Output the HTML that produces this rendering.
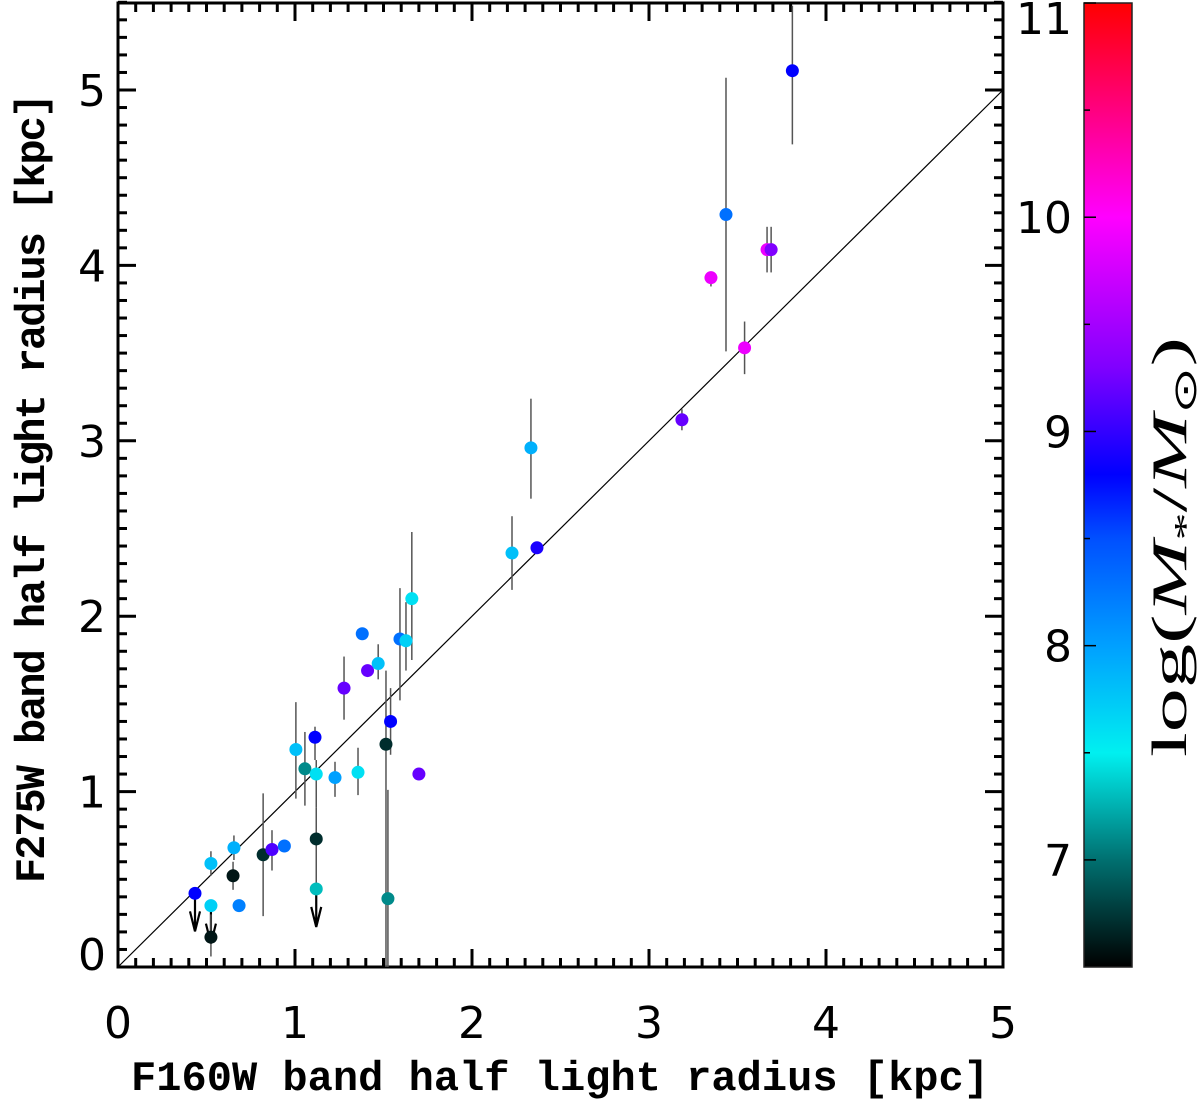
<!DOCTYPE html>
<html><head><meta charset="utf-8"><style>body{margin:0;background:#fff}svg{display:block}</style></head>
<body>
<svg id="chart" width="1200" height="1100" xmlns="http://www.w3.org/2000/svg">
<defs><linearGradient id="cg" x1="0" y1="1" x2="0" y2="0">
<stop offset="0" stop-color="#000000"/><stop offset="0.111" stop-color="#007070"/><stop offset="0.222" stop-color="#00f0f0"/><stop offset="0.333" stop-color="#00a0ff"/><stop offset="0.444" stop-color="#0050ff"/><stop offset="0.511" stop-color="#0000ff"/><stop offset="0.622" stop-color="#8000ff"/><stop offset="0.778" stop-color="#ff00ff"/><stop offset="1" stop-color="#ff0000"/></linearGradient></defs>
<g id="g"></g>
</svg>
<script>
const xs=[0.435,0.525,0.525,0.525,0.65,0.655,0.684,0.82,0.87,0.94,1.005,1.056,1.113,1.12,1.12,1.12,1.226,1.277,1.356,1.38,1.41,1.47,1.514,1.525,1.54,1.593,1.627,1.66,1.70,2.226,2.333,2.367,3.186,3.35,3.435,3.54,3.667,3.69,3.81];
const ys=[0.42,0.35,0.17,0.59,0.52,0.68,0.35,0.64,0.67,0.69,1.24,1.13,1.31,1.10,0.73,0.445,1.08,1.59,1.11,1.90,1.69,1.73,1.27,0.39,1.40,1.87,1.86,2.10,1.10,2.36,2.96,2.39,3.12,3.93,4.29,3.53,4.09,4.09,5.11];
const yhi=[null,null,0.30,0.66,0.60,0.75,null,0.99,0.78,null,1.51,1.34,1.37,1.18,0.91,null,1.17,1.77,1.25,null,null,1.84,1.69,1.01,1.59,2.16,2.08,2.48,null,2.57,3.24,null,3.18,3.96,5.07,3.68,4.22,4.22,5.48];
const ylo=[null,null,0.06,0.52,0.44,0.61,null,0.29,0.55,null,0.96,0.92,1.18,0.91,0.38,null,0.97,1.41,0.98,null,null,1.64,0,0,1.21,1.52,1.69,1.75,null,2.15,2.67,null,3.06,3.88,3.51,3.38,3.96,3.96,4.69];
const mass=[8.8,7.7,6.6,7.8,6.6,7.9,8.2,6.7,9.1,8.3,7.8,7.1,8.8,7.6,6.7,7.3,8.0,9.2,7.6,8.3,9.2,7.8,6.7,7.1,8.8,8.3,7.7,7.6,9.2,7.8,7.9,8.9,9.2,9.9,8.3,9.9,9.9,9.3,8.8];
const upperLimit=[true,true,false,false,false,false,false,false,false,false,false,false,false,false,false,true,false,false,false,false,false,false,false,false,false,false,false,false,false,false,false,false,false,false,false,false,false,false,false];
const xTicks=[0,1,2,3,4,5];
const yTicks=[0,1,2,3,4,5];
const cTicks=[7,8,9,10,11];

const L=118,R=1003,T=3,B=967;
const X=v=>L+v*(R-L)/5;
const Y=v=>B-v*175.4;
const CL=1084,CR=1132,CT=3,CB=967;
const CY=m=>CB-(m-6.5)*(CB-CT)/4.5;
const stops=[[6.5,[0,0,0]],[7,[0,112,112]],[7.5,[0,240,240]],[8,[0,160,255]],[8.5,[0,80,255]],[8.8,[0,0,255]],[9.3,[128,0,255]],[10,[255,0,255]],[11,[255,0,0]]];
function col(m){for(let i=0;i<stops.length-1;i++){const a=stops[i],b=stops[i+1];if(m<=b[0]){const t=Math.max(0,(m-a[0])/(b[0]-a[0]));return 'rgb('+a[1].map((c,k)=>Math.round(c+(b[1][k]-c)*t)).join(',')+')';}}return 'rgb(255,0,0)';}
const NS='http://www.w3.org/2000/svg',g=document.getElementById('g');
function mk(tag,at,parent){const e=document.createElementNS(NS,tag);for(const k in at)e.setAttribute(k,at[k]);(parent||g).appendChild(e);return e;}
function txt(s,at){const e=mk('text',at);e.textContent=s;return e;}
const TF={'font-size':44,'font-family':'DejaVu Sans, sans-serif','font-weight':'normal'};
let e=mk('rect',{x:L,y:T,width:R-L,height:B-T,fill:'none',stroke:'#000','stroke-width':3});


for(let i=0;i<=50;i++){const v=i/10,maj=i%10==0,len=maj?18:9;const px=X(v);
mk('line',{x1:px,y1:B,x2:px,y2:B-len,stroke:'#000','stroke-width':3});
mk('line',{x1:px,y1:T,x2:px,y2:T+len,stroke:'#000','stroke-width':3});}
for(let i=0;i<=55;i++){const v=i/10,maj=i%10==0,len=maj?18:9;const py=Y(v);
mk('line',{x1:L,y1:py,x2:L+len,y2:py,stroke:'#000','stroke-width':3});
mk('line',{x1:R,y1:py,x2:R-len,y2:py,stroke:'#000','stroke-width':3});}
xTicks.forEach(v=>{e=txt(String(v),Object.assign({x:X(v),y:1038,'text-anchor':'middle'},TF));

});
yTicks.forEach(v=>{e=txt(String(v),Object.assign({x:106,y:Math.min(Y(v)+16,970),'text-anchor':'end'},TF));

});
e=txt('F160W band half light radius [kpc]',{x:560,y:1090,'font-size':42,'text-anchor':'middle','font-family':'Liberation Mono, monospace','font-weight':'bold',textLength:858});


e=txt('F275W band half light radius [kpc]',{x:0,y:0,'font-size':42,'text-anchor':'middle','font-family':'Liberation Mono, monospace','font-weight':'bold',textLength:790,transform:'translate(44,488) rotate(-90)'});


e=mk('line',{x1:X(0),y1:Y(0),x2:X(5),y2:Y(5),stroke:'#000','stroke-width':1.2});


xs.forEach((x,i)=>{if(yhi[i]!==null){e=mk('line',{x1:X(x),y1:Y(yhi[i]),x2:X(x),y2:Y(ylo[i]),stroke:'#555','stroke-width':1.5});

}
if(upperLimit[i]){const px=X(x),py=Y(ys[i]),tip=py+38;
e=mk('path',{d:`M${px},${py} L${px},${tip} M${px-5},${tip-20} L${px},${tip} L${px+5},${tip-20}`,stroke:'#000','stroke-width':2.2,fill:'none'});

}});
xs.forEach((x,i)=>{e=mk('circle',{cx:X(x),cy:Y(ys[i]),r:6.5,fill:col(mass[i])});

});
e=mk('rect',{x:CL,y:CT,width:CR-CL,height:CB-CT,fill:'url(#cg)',stroke:'#222','stroke-width':1.5});


for(let m=7;m<=11;m+=0.5){const maj=Number.isInteger(m);mk('line',{x1:CL,y1:CY(m),x2:CL+(maj?12:6),y2:CY(m),stroke:'#000','stroke-width':1.5});}
cTicks.forEach(m=>{e=txt(String(m),Object.assign({x:1072,y:Math.max(CY(m)+16,34),'text-anchor':'end'},TF));

});
e=mk('text',{x:0,y:0,'font-size':50,'text-anchor':'middle','font-family':'Liberation Serif, serif',transform:'translate(1186,547) rotate(-90)',textLength:420,lengthAdjust:'spacingAndGlyphs'});
e.innerHTML='log(<tspan font-style="italic">M</tspan><tspan font-size="32" dy="10">*</tspan><tspan dy="-10">/</tspan><tspan font-style="italic">M</tspan><tspan font-size="32" dy="10">⊙</tspan><tspan dy="-10">)</tspan>';


</script>
</body></html>
